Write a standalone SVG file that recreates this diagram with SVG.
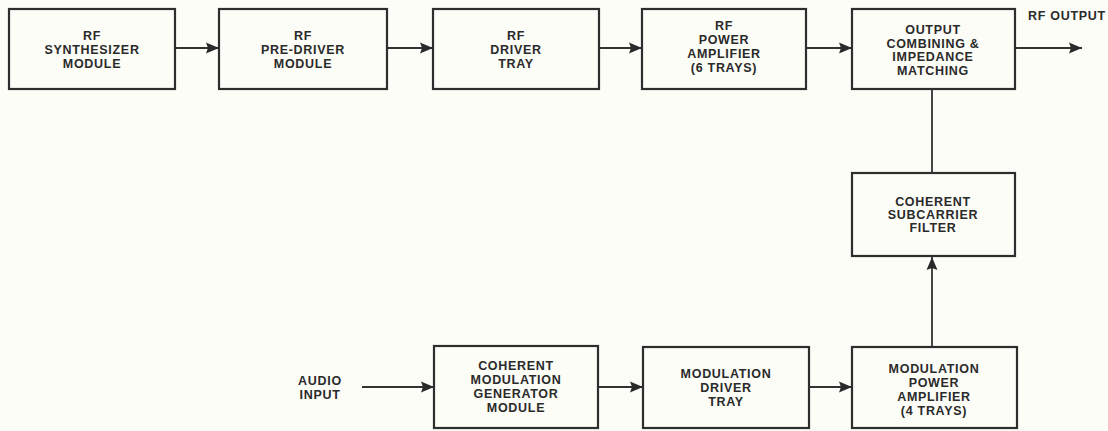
<svg xmlns="http://www.w3.org/2000/svg" width="1108" height="431" viewBox="0 0 1108 431">
<defs>
<style>
.box{fill:#fdfdf8;stroke:#2e2e2e;stroke-width:2.2}
.lbl{font-family:"Liberation Sans",Arial,sans-serif;font-weight:bold;font-size:12.5px;letter-spacing:0.7px;fill:#2a2a2a;text-anchor:middle}
.con{stroke:#333;stroke-width:1.8;fill:none}
</style>
<marker id="ah" markerUnits="userSpaceOnUse" markerWidth="14" markerHeight="12" refX="13" refY="6" orient="auto">
<polygon points="0,0.5 13,6 0,11.5 2,6" fill="#2a2a2a"/>
</marker>
</defs>
<rect width="1108" height="431" fill="#fdfdf8"/>
<g id="connectors">
<line class="con" x1="175" y1="48" x2="219" y2="48" marker-end="url(#ah)"/>
<line class="con" x1="387" y1="48" x2="433" y2="48" marker-end="url(#ah)"/>
<line class="con" x1="599" y1="48" x2="642" y2="48" marker-end="url(#ah)"/>
<line class="con" x1="806" y1="48" x2="852" y2="48" marker-end="url(#ah)"/>
<line class="con" x1="1015" y1="48" x2="1082" y2="48" marker-end="url(#ah)"/>
<line class="con" x1="932" y1="89" x2="932" y2="173"/>
<line class="con" x1="932" y1="347" x2="932" y2="257" marker-end="url(#ah)"/>
<line class="con" x1="362" y1="387" x2="434" y2="387" marker-end="url(#ah)"/>
<line class="con" x1="598" y1="387" x2="643" y2="387" marker-end="url(#ah)"/>
<line class="con" x1="809" y1="387" x2="852" y2="387" marker-end="url(#ah)"/>
</g>
<g id="rf-synth">
<rect class="box" x="9" y="9" width="166" height="80"/>
<text class="lbl" x="92" y="40">RF</text>
<text class="lbl" x="92" y="54">SYNTHESIZER</text>
<text class="lbl" x="92" y="68">MODULE</text>
</g>
<g id="rf-predriver">
<rect class="box" x="219" y="9" width="168" height="80"/>
<text class="lbl" x="303" y="40">RF</text>
<text class="lbl" x="303" y="54">PRE-DRIVER</text>
<text class="lbl" x="303" y="68">MODULE</text>
</g>
<g id="rf-driver">
<rect class="box" x="433" y="9" width="166" height="80"/>
<text class="lbl" x="516" y="40">RF</text>
<text class="lbl" x="516" y="54">DRIVER</text>
<text class="lbl" x="516" y="68">TRAY</text>
</g>
<g id="rf-pa">
<rect class="box" x="642" y="9" width="164" height="80"/>
<text class="lbl" x="724" y="30">RF</text>
<text class="lbl" x="724" y="44">POWER</text>
<text class="lbl" x="724" y="58">AMPLIFIER</text>
<text class="lbl" x="724" y="72">(6 TRAYS)</text>
</g>
<g id="output-combining">
<rect class="box" x="852" y="9" width="163" height="80"/>
<text class="lbl" x="933" y="34">OUTPUT</text>
<text class="lbl" x="933" y="48">COMBINING &amp;</text>
<text class="lbl" x="933" y="61">IMPEDANCE</text>
<text class="lbl" x="933" y="75">MATCHING</text>
</g>
<g id="rf-output-label">
<text class="lbl" x="1028" y="20" style="text-anchor:start">RF OUTPUT</text>
</g>
<g id="subcarrier-filter">
<rect class="box" x="852" y="173" width="163" height="83"/>
<text class="lbl" x="933" y="206">COHERENT</text>
<text class="lbl" x="933" y="219">SUBCARRIER</text>
<text class="lbl" x="933" y="232">FILTER</text>
</g>
<g id="audio-input-label">
<text class="lbl" x="320" y="385">AUDIO</text>
<text class="lbl" x="320" y="399">INPUT</text>
</g>
<g id="mod-generator">
<rect class="box" x="434" y="346" width="164" height="82"/>
<text class="lbl" x="516" y="370">COHERENT</text>
<text class="lbl" x="516" y="384">MODULATION</text>
<text class="lbl" x="516" y="398">GENERATOR</text>
<text class="lbl" x="516" y="412">MODULE</text>
</g>
<g id="mod-driver">
<rect class="box" x="643" y="347" width="166" height="81"/>
<text class="lbl" x="726" y="378">MODULATION</text>
<text class="lbl" x="726" y="392">DRIVER</text>
<text class="lbl" x="726" y="406">TRAY</text>
</g>
<g id="mod-pa">
<rect class="box" x="852" y="347" width="165" height="81"/>
<text class="lbl" x="934" y="373">MODULATION</text>
<text class="lbl" x="934" y="387">POWER</text>
<text class="lbl" x="934" y="401">AMPLIFIER</text>
<text class="lbl" x="934" y="415">(4 TRAYS)</text>
</g>
</svg>
